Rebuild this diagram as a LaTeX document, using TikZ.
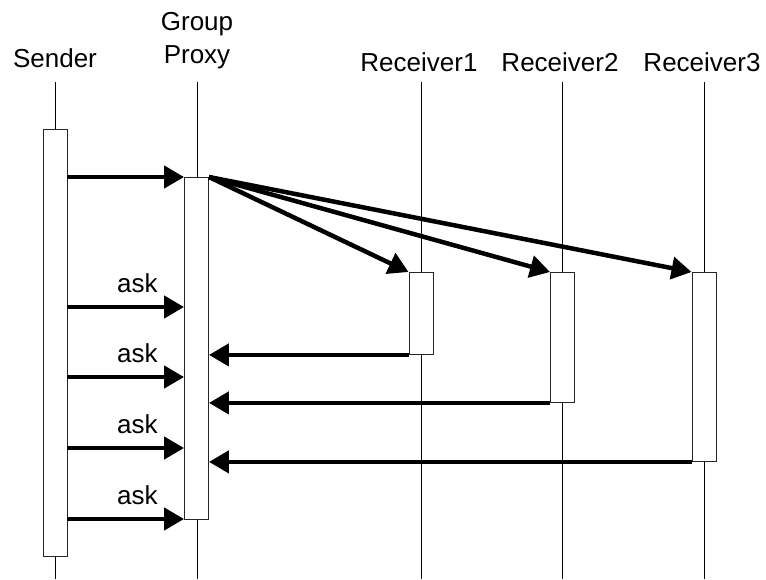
\documentclass[tikz,border=0pt]{standalone}
\usepackage{fontspec}
\setmainfont{Liberation Sans}
\usetikzlibrary{arrows.meta}

\tikzset{
	lifeline/.style={line width=0.9pt},
	actbox/.style={draw=black!85, fill=white, line width=0.9pt, minimum width=24pt, inner sep=0pt},
	msg/.style={line width=4.5pt, -{Triangle[length=20pt,width=22pt]}},
	head/.style={anchor=base, inner sep=0pt, font=\fontsize{26}{33}\selectfont},
	asklbl/.style={pos=0.6, anchor=base, yshift=15pt, inner sep=0pt, font=\fontsize{26}{33}\selectfont}
}

\begin{document}
\begin{tikzpicture}[x=1pt,y=-1pt]
	\useasboundingbox (0,0) rectangle (766,579);
	
	% Draw lifelines
	\foreach \n/\x in {snd/55, gp/197, rI/421, rII/562, rIII/704}{
		\coordinate (\n top) at (\x,82);
		\coordinate (\n bot) at (\x,579);
		\draw[lifeline] (\n top) -- (\n bot);
	}
	
	% Head labels
	\node[head] (sndlbl) at (55,67) {Sender};
	\node[head, align=center] (gplbl) at (197,63) {Group\\Proxy};
	\node[head] (rIlbl) at (419,71) {Receiver1};
	\node[head] (rIIlbl) at (560,71) {Receiver2};
	\node[head] (rIIIlbl) at (702,71) {Receiver3};
	
	% Activation boxes
	\foreach \n/\x/\t/\b in {snd/55/129/556, gp/196.5/177/519, rI/421/272/354, rII/562.5/272/402, rIII/704/272/461}
	\node[actbox, anchor=north, minimum height={\b-\t}] (\n box) at (\x,\t) {};
	
	% Call from sender and fan out
	\draw[msg] (sndbox.east |- gpbox.north) -- (gpbox.north west);
	\foreach \r in {rI,rII,rIII}
	\draw[msg] (gpbox.north east) -- (\r box.north west);
	
	% ask messages
	\foreach \y in {307,377,448,519}{
		\coordinate (ask\y) at (0,\y);
		\draw[msg] (sndbox.east |- ask\y) -- (gpbox.west |- ask\y) node[asklbl] {ask};
	}
	
	% Replies to the proxy
	\foreach \r in {rI,rII,rIII}
	\draw[msg] (\r box.south west) -- (gpbox.east |- \r box.south);
	
\end{tikzpicture}
\end{document}
